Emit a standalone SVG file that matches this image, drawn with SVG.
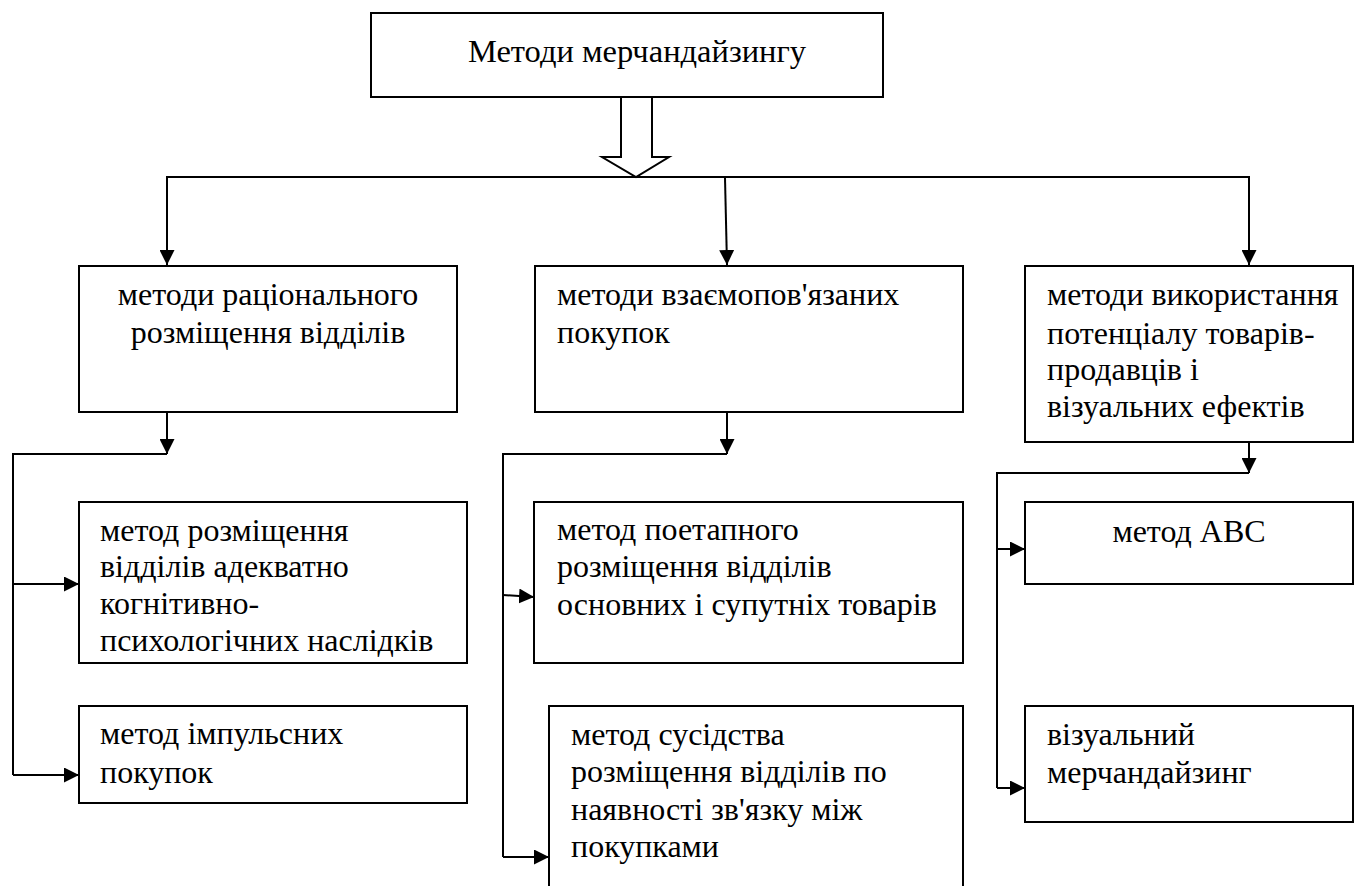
<svg xmlns="http://www.w3.org/2000/svg" width="1354" height="886" viewBox="0 0 1354 886">
<style>
.box{fill:#fff;stroke:#000;stroke-width:2}
.ln{fill:none;stroke:#000;stroke-width:2}
.tx{font-family:'Liberation Serif','Times New Roman',serif;font-size:32px;fill:#000}
.t{font-size:32.5px}
</style>
<defs>
<marker id="ah" viewBox="0 0 10 10" refX="10" refY="5" markerWidth="15" markerHeight="15" markerUnits="userSpaceOnUse" orient="auto">
<path d="M0,0 L10,5 L0,10 z" fill="#000"/>
</marker>
</defs>
<rect width="1354" height="886" fill="#fff"/>
<g id="connectors">
<polygon class="ln" points="621,97 652,97 652,157 669,157 636,177 602,157 621,157"/>
<path class="ln" d="M167,265 L167,177 L1249,177 L1249,265" marker-end="url(#ah)"/>
<path class="ln" d="M167,178 L167,265" marker-end="url(#ah)"/>
<path class="ln" d="M725,178 L727,265" marker-end="url(#ah)"/>
<path class="ln" d="M167,412 L167,454" marker-end="url(#ah)"/>
<path class="ln" d="M167,454 L13,454 L13,775"/>
<path class="ln" d="M13,584 L79,584" marker-end="url(#ah)"/>
<path class="ln" d="M13,775 L79,775" marker-end="url(#ah)"/>
<path class="ln" d="M727,412 L727,454" marker-end="url(#ah)"/>
<path class="ln" d="M727,454 L503,454 L503,857"/>
<path class="ln" d="M503,595 L534,597" marker-end="url(#ah)"/>
<path class="ln" d="M503,857 L549,857" marker-end="url(#ah)"/>
<path class="ln" d="M1249,442 L1249,473" marker-end="url(#ah)"/>
<path class="ln" d="M1249,473 L997,473 L997,788"/>
<path class="ln" d="M997,549 L1025,549" marker-end="url(#ah)"/>
<path class="ln" d="M997,788 L1025,788" marker-end="url(#ah)"/>
</g>
<g id="top">
<rect class="box" x="371" y="13" width="512" height="84"/>
<text class="tx t" x="637" y="62" text-anchor="middle">Методи мерчандайзингу</text>
</g>
<g id="rational">
<rect class="box" x="79" y="266" width="378" height="146"/>
<text class="tx" x="268" y="305" text-anchor="middle">методи раціонального</text>
<text class="tx" x="268" y="343" text-anchor="middle">розміщення відділів</text>
</g>
<g id="cognitive">
<rect class="box" x="79" y="502" width="388" height="161"/>
<text class="tx" x="100" y="541">метод розміщення</text>
<text class="tx" x="100" y="577">відділів адекватно</text>
<text class="tx" x="100" y="614">когнітивно-</text>
<text class="tx" x="100" y="651">психологічних наслідків</text>
</g>
<g id="impulse">
<rect class="box" x="79" y="706" width="388" height="97"/>
<text class="tx" x="100" y="744">метод імпульсних</text>
<text class="tx" x="100" y="783">покупок</text>
</g>
<g id="related">
<rect class="box" x="535" y="266" width="428" height="146"/>
<text class="tx" x="557" y="305">методи взаємопов'язаних</text>
<text class="tx" x="557" y="343">покупок</text>
</g>
<g id="stepwise">
<rect class="box" x="534" y="502" width="429" height="161"/>
<text class="tx" x="557" y="540">метод поетапного</text>
<text class="tx" x="557" y="577">розміщення відділів</text>
<text class="tx" x="557" y="615">основних і супутніх товарів</text>
</g>
<g id="neighbour">
<rect class="box" x="549" y="706" width="414" height="190"/>
<text class="tx" x="571" y="745">метод сусідства</text>
<text class="tx" x="571" y="782">розміщення відділів по</text>
<text class="tx" x="571" y="820">наявності зв'язку між</text>
<text class="tx" x="571" y="857">покупками</text>
</g>
<g id="potential">
<rect class="box" x="1025" y="266" width="328" height="176"/>
<text class="tx" x="1047" y="305">методи використання</text>
<text class="tx" x="1047" y="344">потенціалу товарів-</text>
<text class="tx" x="1047" y="380">продавців і</text>
<text class="tx" x="1047" y="417">візуальних ефектів</text>
</g>
<g id="abc">
<rect class="box" x="1025" y="502" width="328" height="82"/>
<text class="tx" x="1189" y="542" text-anchor="middle">метод АВС</text>
</g>
<g id="visual">
<rect class="box" x="1025" y="706" width="328" height="116"/>
<text class="tx" x="1047" y="745">візуальний</text>
<text class="tx" x="1047" y="783">мерчандайзинг</text>
</g>
</svg>
